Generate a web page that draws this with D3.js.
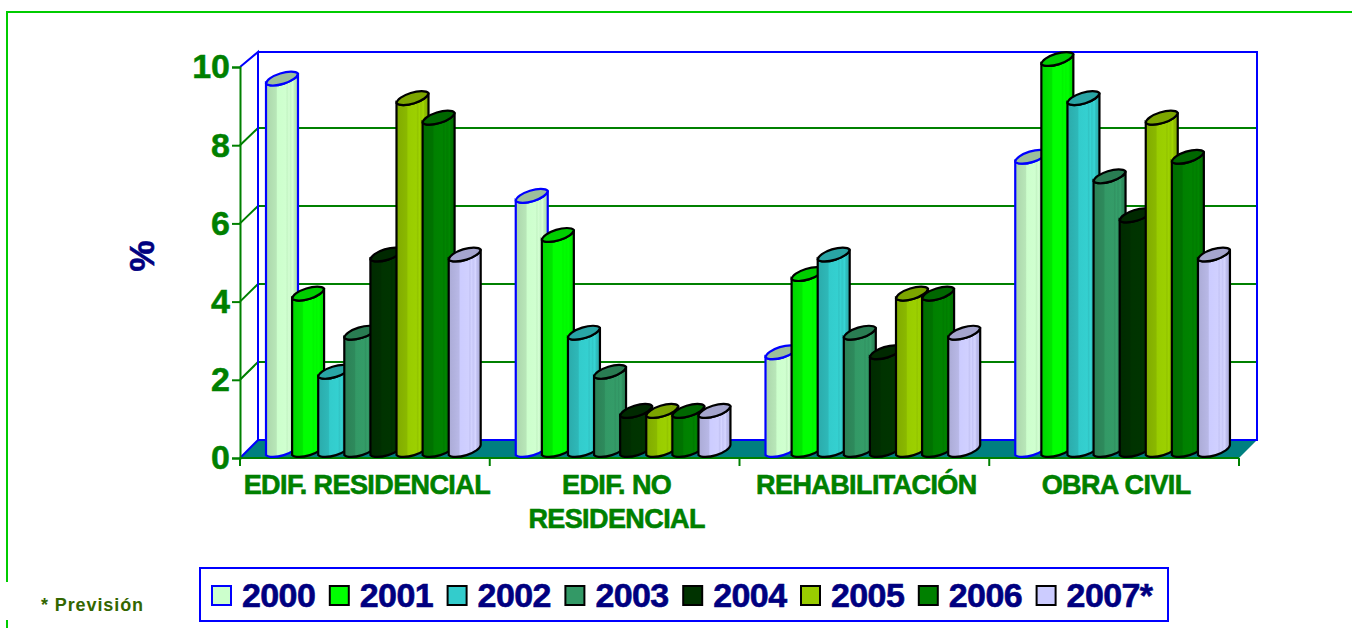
<!DOCTYPE html>
<html>
<head>
<meta charset="utf-8">
<script src="https://cdn.jsdelivr.net/npm/d3@7"></script>
<style>
html, body { margin: 0; padding: 0; background: #fff; overflow: hidden; }
svg { display: block; }
text { font-family: "Liberation Sans", Arial, sans-serif; font-weight: bold; }
</style>
</head>
<body>
<svg id="chart" width="1352" height="628"></svg>
<script>
// datos
var categorias = ["EDIF. RESIDENCIAL", "EDIF. NO|RESIDENCIAL", "REHABILITACIÓN", "OBRA CIVIL"];
var anios = ["2000", "2001", "2002", "2003", "2004", "2005", "2006", "2007*"];
var colores = ["#CCFFCC", "#00FF00", "#33CCCC", "#339966", "#003300", "#99CC00", "#008000", "#CCCCFF"];
var edifResidencial = [9.5, 4, 2, 3, 5, 9, 8.5, 5];
var edifNoResidencial = [6.5, 5.5, 3, 2, 1, 1, 1, 1];
var rehabilitacion = [2.5, 4.5, 5, 3, 2.5, 4, 4, 3];
var obraCivil = [7.5, 10, 9, 7, 6, 8.5, 7.5, 5];
var valores = [edifResidencial, edifNoResidencial, rehabilitacion, obraCivil];
var ticksY = [0, 2, 4, 6, 8, 10];

var VERDE = "#008000", AZUL = "#0000FF", NAVY = "#000080";
var svg = d3.select("#chart");
var defs = svg.append("defs");

// escalas: plano frontal y plano del fondo
var yFrente = d3.scaleLinear().domain([0, 10]).range([458, 67]);
var yFondo = d3.scaleLinear().domain([0, 10]).range([440, 50]);
var x0 = d3.scaleBand().domain(categorias).range([240, 1239]);
var x1 = d3.scaleBand().domain(anios).range([26, 26 + 8 * 26.1]);
var dx = 18;
var xIni = 240, xFin = 1239;
var yTecho = 52;

// marco verde de la diapositiva
svg.append("path")
	.attr("d", "M7,582 V12 H1352 M7,620 V628")
	.attr("fill", "none")
	.attr("stroke", "#00CC00")
	.attr("stroke-width", 2);

// suelo y paredes
svg.append("polygon")
	.attr("points", [[xIni, yFrente(0)], [xIni + dx, yFondo(0)], [xFin + dx, yFondo(0)], [xFin, yFrente(0)]].join(" "))
	.attr("fill", "#008080");

var paredes = svg.append("g").attr("fill", "none");

paredes.selectAll("path.grid")
	.data(ticksY.slice(1, 5))
	.enter().append("path")
	.attr("class", "grid")
	.attr("d", function(d){ return "M" + xIni + "," + yFrente(d) + " L" + (xIni + dx) + "," + yFondo(d) + " H" + (xFin + dx); })
	.attr("stroke", VERDE)
	.attr("stroke-width", 2);

paredes.append("path")
	.attr("d", "M" + xIni + "," + yFrente(0) + " L" + (xIni + dx) + "," + yFondo(0) + " V" + yTecho + " L" + xIni + "," + yFrente(10)
		+ " M" + (xIni + dx) + "," + yTecho + " H" + (xFin + dx) + " V" + yFondo(0) + " H" + (xIni + dx))
	.attr("stroke", AZUL)
	.attr("stroke-width", 2);

// ejes
var ejeY = d3.axisLeft(yFrente).tickValues(ticksY).tickSize(8).tickPadding(2).tickFormat(d3.format("d"));
var gY = svg.append("g").attr("transform", "translate(" + xIni + ",0)").call(ejeY);
gY.select(".domain").attr("stroke", VERDE).attr("stroke-width", 2);
gY.selectAll(".tick line").attr("stroke", VERDE).attr("stroke-width", 2);
gY.selectAll(".tick text")
	.attr("fill", VERDE)
	.attr("stroke", VERDE)
	.attr("stroke-width", 0.5)
	.style("font-size", "34px")
	.style("font-family", '"Liberation Sans", Arial, sans-serif')
	.style("font-weight", "bold");

var limites = categorias.map(function(c){ return x0(c); }).concat([xFin]);
svg.append("line")
	.attr("x1", xIni).attr("x2", xFin)
	.attr("y1", yFrente(0)).attr("y2", yFrente(0))
	.attr("stroke", VERDE).attr("stroke-width", 2);
svg.selectAll("line.marca")
	.data(limites)
	.enter().append("line")
	.attr("class", "marca")
	.attr("x1", function(d){ return d; }).attr("x2", function(d){ return d; })
	.attr("y1", yFrente(0)).attr("y2", yFrente(0) + 8)
	.attr("stroke", VERDE).attr("stroke-width", 2);

// degradados de los cilindros
anios.forEach(function(a, i){
	var base = d3.color(colores[i]);
	var g = defs.append("linearGradient").attr("id", "cil" + i);
	var paradas = [[0, 0.84], [0.32, 0.9], [0.36, 1], [0.62, 1.02], [0.66, 0.96], [0.72, 1.04], [0.76, 0.97], [0.84, 1.05], [0.88, 0.94], [1, 0.84]];
	paradas.forEach(function(p){
		var c = d3.rgb(Math.min(255, base.r * p[1]), Math.min(255, base.g * p[1]), Math.min(255, base.b * p[1]));
		g.append("stop").attr("offset", p[0]).attr("stop-color", c.formatHex());
	});
});

// cilindros
var anchoBarra = 32, subida = 10, rx = 17, ry = 6.5, giro = -17;

function tapa(xb, yc) {
	return "M" + xb + "," + (yc + subida / 2)
		+ " A" + rx + "," + ry + " " + giro + " 0 1 " + (xb + anchoBarra) + "," + (yc - subida / 2)
		+ " A" + rx + "," + ry + " " + giro + " 0 1 " + xb + "," + (yc + subida / 2) + " Z";
}

function cuerpo(xb, yc) {
	var yb = yFrente(0) - 8;
	return "M" + xb + "," + (yc + subida / 2)
		+ " V" + (yb + subida / 2)
		+ " A" + rx + "," + ry + " " + giro + " 0 0 " + (xb + anchoBarra) + "," + (yb - subida / 2)
		+ " V" + (yc - subida / 2)
		+ " A" + rx + "," + ry + " " + giro + " 0 1 " + xb + "," + (yc + subida / 2) + " Z";
}

var grupos = svg.selectAll("g.grupo")
	.data(categorias)
	.enter().append("g")
	.attr("class", "grupo");

grupos.each(function(c, ic){
	var g = d3.select(this);
	anios.forEach(function(a, i){
		var v = valores[ic][i];
		var xb = x0(c) + x1(a);
		var yc = yFrente(v) - 8;
		var trazo = i == 0 ? AZUL : "#000";
		g.append("path")
			.attr("d", cuerpo(xb, yc))
			.attr("fill", "url(#cil" + i + ")")
			.attr("stroke", trazo)
			.attr("stroke-width", 2.2);
		g.append("path")
			.attr("d", tapa(xb, yc))
			.attr("fill", i == 0 ? "#9CBF9C" : d3.color(colores[i]).darker(0.6).formatHex())
			.attr("stroke", trazo)
			.attr("stroke-width", 2.2);
	});
});

// rotulos de categoria
grupos.each(function(c){
	var lineas = c.split("|");
	var t = d3.select(this).append("text")
		.attr("text-anchor", "middle")
		.attr("fill", VERDE)
		.attr("stroke", VERDE)
		.attr("stroke-width", 0.6)
		.style("font-size", "27px")
		.style("letter-spacing", "-0.6px");
	lineas.forEach(function(l, i){
		t.append("tspan")
			.attr("x", x0(c) + x0.bandwidth() / 2 + 2)
			.attr("y", 494 + i * 34)
			.text(l);
	});
});

// titulo eje
svg.append("text")
	.attr("transform", "translate(154,256) rotate(-90)")
	.attr("text-anchor", "middle")
	.attr("fill", NAVY)
	.attr("stroke", NAVY)
	.attr("stroke-width", 0.6)
	.style("font-size", "35px")
	.text("%");

// leyenda
svg.append("rect")
	.attr("x", 200).attr("y", 568)
	.attr("width", 968).attr("height", 53)
	.attr("fill", "#fff")
	.attr("stroke", AZUL)
	.attr("stroke-width", 2);

var xLeyenda = d3.scaleBand().domain(anios).range([212, 212 + 8 * 117.8]);
var leyenda = svg.selectAll("g.leyenda")
	.data(anios)
	.enter().append("g")
	.attr("class", "leyenda")
	.attr("transform", function(d){ return "translate(" + xLeyenda(d) + ",0)"; });

leyenda.append("rect")
	.attr("y", 586).attr("width", 19).attr("height", 19)
	.attr("fill", function(d, i){ return colores[i]; })
	.attr("stroke", function(d, i){ return i == 0 ? AZUL : "#000"; })
	.attr("stroke-width", 2);

leyenda.append("text")
	.attr("x", 30).attr("y", 607)
	.attr("fill", NAVY)
	.attr("stroke", NAVY)
	.attr("stroke-width", 0.6)
	.style("font-size", "34px")
	.style("letter-spacing", "-0.6px")
	.text(function(d){ return d; });

// nota
svg.append("text")
	.attr("x", 41).attr("y", 611)
	.attr("fill", "#336600")
	.style("font-size", "18px")
	.style("letter-spacing", "0.9px")
	.text("* Previsión");
</script>
</body>
</html>
